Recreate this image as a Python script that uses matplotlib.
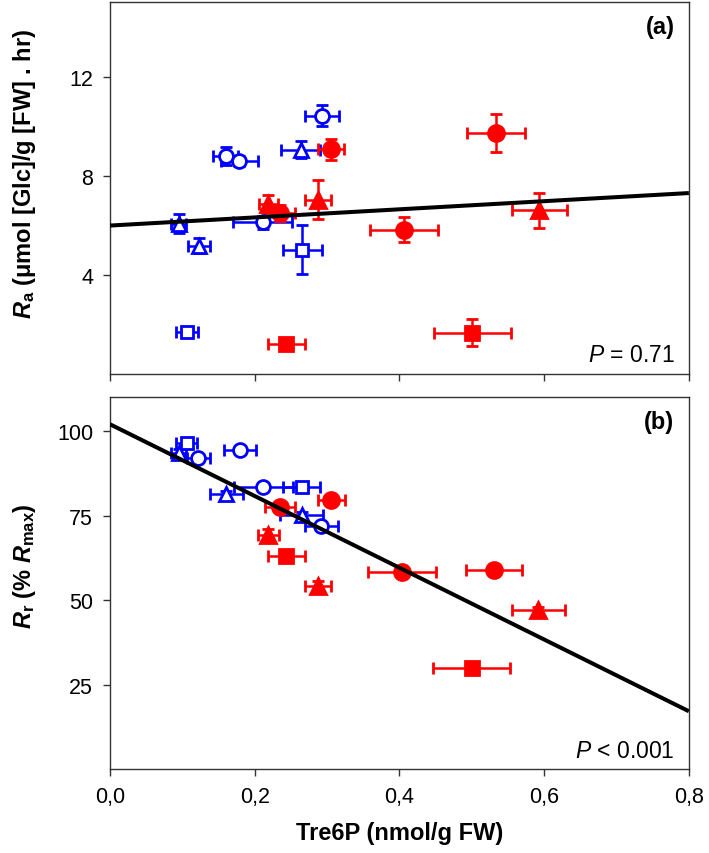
import matplotlib
matplotlib.use('Agg')
import matplotlib.pyplot as plt
import numpy as np
from matplotlib.ticker import FuncFormatter

# groups: A = blue open, B = red filled; 1 circle, 2 triangle, 3 square
groups_a = ['A1', 'A1', 'A1', 'A1', 'A2', 'A2', 'A2', 'A3', 'A3',
            'B1', 'B1', 'B1', 'B1', 'B2', 'B2', 'B2', 'B3', 'B3']
tre6p_a = [0.293, 0.160, 0.179, 0.211, 0.264, 0.095, 0.123, 0.266, 0.107,
           0.533, 0.306, 0.406, 0.235, 0.219, 0.288, 0.593, 0.244, 0.501]
tre6p_a_err = [0.023, 0.017, 0.025, 0.041, 0.027, 0.010, 0.015, 0.027, 0.015,
               0.040, 0.018, 0.047, 0.021, 0.013, 0.018, 0.038, 0.026, 0.053]
ra = [10.43, 8.81, 8.59, 6.12, 9.05, 6.07, 5.18, 5.02, 1.69,
      9.72, 9.07, 5.83, 6.50, 6.87, 7.03, 6.60, 1.19, 1.66]
ra_err = [0.44, 0.36, 0.20, 0.27, 0.35, 0.40, 0.31, 1.00, 0.10,
          0.77, 0.43, 0.50, 0.33, 0.35, 0.78, 0.70, 0.10, 0.54]

groups_b = ['A3', 'A3', 'A1', 'A1', 'A1', 'A1', 'A2', 'A2', 'A2',
            'B1', 'B1', 'B1', 'B1', 'B2', 'B2', 'B2', 'B3', 'B3']
tre6p_b = [0.106, 0.265, 0.180, 0.122, 0.212, 0.292, 0.095, 0.161, 0.265,
           0.235, 0.306, 0.404, 0.531, 0.219, 0.288, 0.592, 0.244, 0.500]
tre6p_b_err = [0.014, 0.026, 0.022, 0.016, 0.041, 0.023, 0.010, 0.023, 0.030,
               0.021, 0.019, 0.047, 0.039, 0.014, 0.018, 0.037, 0.025, 0.053]
rr = [96.5, 83.5, 94.4, 91.9, 83.5, 71.9, 93.4, 81.3, 75.1,
      77.5, 79.6, 58.4, 58.8, 69.4, 54.2, 47.1, 63.2, 30.0]
rr_err = [1.0, 0.8, 0.8, 0.8, 0.8, 0.8, 1.2, 1.0, 1.0,
          0.8, 0.8, 0.8, 0.8, 1.5, 1.5, 1.0, 0.8, 0.8]

# regression lines
fit_a = (5.99, 1.64)     # intercept, slope
fit_b = (102.0, -106.0)

p_text_a = 'P = 0.71'
p_text_b = 'P < 0.001'

BLUE = '#0000ff'
RED = '#ff0000'
STYLES = {
    'A1': dict(marker='o', color=BLUE, mfc='white', ms=10),
    'A2': dict(marker='^', color=BLUE, mfc='white', ms=10),
    'A3': dict(marker='s', color=BLUE, mfc='white', ms=9),
    'B1': dict(marker='o', color=RED, mfc=RED, ms=11.5),
    'B2': dict(marker='^', color=RED, mfc=RED, ms=11.5),
    'B3': dict(marker='s', color=RED, mfc=RED, ms=10.5),
}

plt.rcParams['font.family'] = ['Liberation Sans', 'DejaVu Sans']
plt.rcParams['mathtext.fontset'] = 'custom'
plt.rcParams['mathtext.rm'] = 'Liberation Sans:bold'
plt.rcParams['mathtext.it'] = 'Liberation Sans:italic:bold'
plt.rcParams['mathtext.bf'] = 'Liberation Sans:bold'
plt.rcParams['mathtext.sf'] = 'Liberation Sans:italic'


def draw_points(ax, groups, x, xerr, y, yerr):
    for g in STYLES:
        idx = [i for i, gg in enumerate(groups) if gg == g]
        if not idx:
            continue
        st = STYLES[g]
        ax.errorbar([x[i] for i in idx], [y[i] for i in idx],
                    xerr=[xerr[i] for i in idx], yerr=[yerr[i] for i in idx],
                    fmt=st['marker'], color=st['color'], mfc=st['mfc'],
                    mec=st['color'], ms=st['ms'], mew=2.0,
                    elinewidth=1.8, capsize=4.5, capthick=1.8, zorder=3)


def draw_fit(ax, fit):
    xs = np.array([0.0, 0.8])
    ax.plot(xs, fit[0] + fit[1] * xs, color='black', lw=2.9, zorder=4,
            solid_capstyle='butt')


def style_axes(ax):
    ax.set_xlim(0, 0.8)
    ax.set_xticks([0.0, 0.2, 0.4, 0.6, 0.8])
    ax.tick_params(direction='out', length=5, width=1, labelsize=15.5,
                   pad=7, color='#333333')
    for sp in ax.spines.values():
        sp.set_linewidth(1.0)
        sp.set_color('#333333')


def p_label(text):
    sym, rest = text.split(' ', 1)
    return r'$\mathsf{%s}$ %s' % (sym, rest)


fig = plt.figure(figsize=(7.09, 8.54), dpi=100)
ax_a = fig.add_axes([0.155, 0.561, 0.8166, 0.435])
ax_b = fig.add_axes([0.155, 0.0978, 0.8166, 0.436])

draw_points(ax_a, groups_a, tre6p_a, tre6p_a_err, ra, ra_err)
draw_fit(ax_a, fit_a)
style_axes(ax_a)
ax_a.set_ylim(0, 15)
ax_a.set_yticks([4, 8, 12])
ax_a.set_xticklabels([])
ax_a.set_ylabel(r'$\mathit{R}_{\mathrm{a}}$ (μmol [Glc]/g [FW] . hr)',
                fontsize=17, fontweight='bold')
ax_a.yaxis.set_label_coords(-0.125, 0.54)
ax_a.text(0.975, 0.965, '(a)', transform=ax_a.transAxes, ha='right',
          va='top', fontsize=17, fontweight='bold')
ax_a.text(0.975, 0.02, p_label(p_text_a), transform=ax_a.transAxes,
          ha='right', va='bottom', fontsize=16.5)

draw_points(ax_b, groups_b, tre6p_b, tre6p_b_err, rr, rr_err)
draw_fit(ax_b, fit_b)
style_axes(ax_b)
ax_b.set_ylim(0, 110)
ax_b.set_yticks([25, 50, 75, 100])
ax_b.xaxis.set_major_formatter(
    FuncFormatter(lambda v, pos: '{:.1f}'.format(v).replace('.', ',')))
ax_b.set_ylabel(r'$\mathit{R}_{\mathrm{r}}$ (% $\mathit{R}_{\mathrm{max}}$)',
                fontsize=17, fontweight='bold')
ax_b.yaxis.set_label_coords(-0.125, 0.55)
ax_b.set_xlabel('Tre6P (nmol/g FW)', fontsize=17, fontweight='bold',
                labelpad=10)
ax_b.text(0.975, 0.965, '(b)', transform=ax_b.transAxes, ha='right',
          va='top', fontsize=17, fontweight='bold')
ax_b.text(0.975, 0.02, p_label(p_text_b), transform=ax_b.transAxes,
          ha='right', va='bottom', fontsize=16.5)

fig.savefig('out.png', dpi=100)
